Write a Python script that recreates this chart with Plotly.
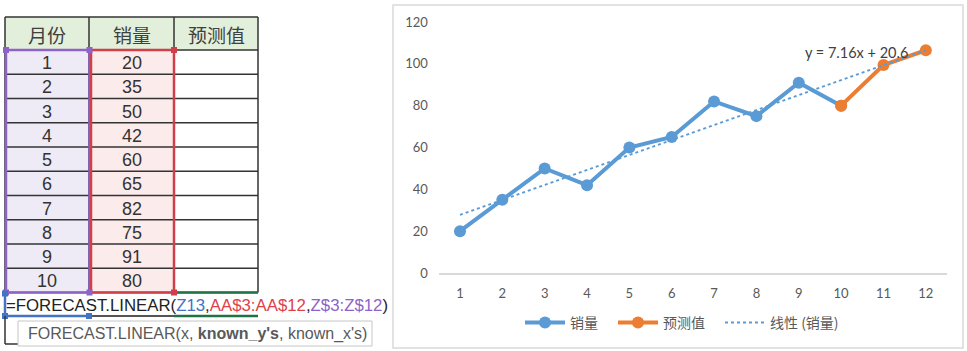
import plotly.graph_objects as go

# ---------------- data ----------------
months = [1, 2, 3, 4, 5, 6, 7, 8, 9, 10]
sales = [20, 35, 50, 42, 60, 65, 82, 75, 91, 80]
forecast_x = [10, 11, 12]
forecast_y = [80, 99.4, 106.5]
trend_x = [1, 12]
trend_y = [27.8, 106.5]
x_ticks = [1, 2, 3, 4, 5, 6, 7, 8, 9, 10, 11, 12]
y_ticks = [0, 20, 40, 60, 80, 100, 120]
headers = ["月份", "销量", "预测值"]
equation = "y = 7.16x + 20.6"
legend_names = ["销量", "预测值", "线性 (销量)"]

W, H = 967, 351
BLUE = "#5B9BD5"
ORANGE = "#ED7D31"
GRAY = "#595959"


def px(x):
    return x / W


def py(y):
    return 1 - y / H


fig = go.Figure()

fig.add_trace(go.Scatter(
    x=months, y=sales, name=legend_names[0], mode="lines+markers",
    line=dict(color=BLUE, width=4), marker=dict(color=BLUE, size=12), legend="legend"))
fig.add_trace(go.Scatter(
    x=forecast_x, y=forecast_y, name=legend_names[1], mode="lines+markers",
    line=dict(color=ORANGE, width=4), marker=dict(color=ORANGE, size=12), legend="legend2"))
fig.add_trace(go.Scatter(
    x=trend_x, y=trend_y, name=legend_names[2], mode="lines",
    line=dict(color=BLUE, width=2, dash="dot"), legend="legend3"))

shapes = []
annotations = []

# ---------------- chart panel ----------------
shapes.append(dict(type="rect", xref="paper", yref="paper",
                   x0=px(393), x1=px(963), y0=py(5), y1=py(348),
                   line=dict(color="#D9D9D9", width=1.5), fillcolor="rgba(0,0,0,0)",
                   layer="below"))

annotations.append(dict(x=10.37, y=105.6, xref="x", yref="y", text=equation,
                        xanchor="center", yanchor="middle",
                        showarrow=False, font=dict(size=14.5, color="#404040",
                                                   family="Lato, Noto Sans CJK SC")))

# ---------------- spreadsheet table ----------------
col_x = [5, 89, 174, 258]
top = 17
head_b = 50
row_h = 24.25
n = len(months)
bottom = head_b + row_h * n

# backgrounds
shapes.append(dict(type="rect", xref="paper", yref="paper", x0=px(col_x[0]), x1=px(col_x[3]),
                   y0=py(top), y1=py(head_b), fillcolor="#E2EFDA", line=dict(width=0), layer="below"))
shapes.append(dict(type="rect", xref="paper", yref="paper", x0=px(col_x[0]), x1=px(col_x[1]),
                   y0=py(head_b), y1=py(bottom), fillcolor="#EEEBF6", line=dict(width=0), layer="below"))
shapes.append(dict(type="rect", xref="paper", yref="paper", x0=px(col_x[1]), x1=px(col_x[2]),
                   y0=py(head_b), y1=py(bottom), fillcolor="#FBEBEB", line=dict(width=0), layer="below"))

line_black = dict(color="#333333", width=1.5)
# horizontal lines
for k in range(n + 2):
    y = top if k == 0 else head_b + row_h * (k - 1)
    shapes.append(dict(type="line", xref="paper", yref="paper", x0=px(col_x[0]), x1=px(col_x[3]),
                       y0=py(y), y1=py(y), line=line_black))
# vertical lines
for cx in col_x:
    shapes.append(dict(type="line", xref="paper", yref="paper", x0=px(cx), x1=px(cx),
                       y0=py(top), y1=py(bottom), line=line_black))

# selection borders
PURPLE = "#8E63C8"
RED = "#D0404A"
GREEN = "#217346"
SELBLUE = "#4472C4"
shapes.append(dict(type="rect", xref="paper", yref="paper", x0=px(6), x1=px(89.5),
                   y0=py(head_b), y1=py(bottom), line=dict(color=PURPLE, width=2.5)))
shapes.append(dict(type="rect", xref="paper", yref="paper", x0=px(91), x1=px(174),
                   y0=py(head_b), y1=py(bottom), line=dict(color=RED, width=2.5)))
for (hx, hy, c) in [(6, head_b, PURPLE), (89.5, head_b, PURPLE), (6, bottom, PURPLE),
                    (89.5, bottom, PURPLE), (174, head_b, RED), (174, bottom, RED)]:
    shapes.append(dict(type="rect", xref="paper", yref="paper", x0=px(hx - 3), x1=px(hx + 3),
                       y0=py(hy - 3), y1=py(hy + 3), fillcolor=c, line=dict(width=0)))

# formula-row cell decorations
f_b = 316
shapes.append(dict(type="line", xref="paper", yref="paper", x0=px(177), x1=px(258),
                   y0=py(bottom), y1=py(bottom), line=dict(color=GREEN, width=2.5)))
shapes.append(dict(type="line", xref="paper", yref="paper", x0=px(5), x1=px(89),
                   y0=py(f_b), y1=py(f_b), line=dict(color=SELBLUE, width=2.5)))
shapes.append(dict(type="line", xref="paper", yref="paper", x0=px(89), x1=px(174),
                   y0=py(f_b), y1=py(f_b), line=dict(color="#555555", width=2)))
shapes.append(dict(type="line", xref="paper", yref="paper", x0=px(174), x1=px(258),
                   y0=py(f_b), y1=py(f_b), line=dict(color=GREEN, width=2.5)))
shapes.append(dict(type="line", xref="paper", yref="paper", x0=px(5), x1=px(5),
                   y0=py(bottom), y1=py(f_b), line=dict(color=SELBLUE, width=2.5)))
for (hx, hy) in [(5, bottom + 1), (5, f_b), (89, f_b)]:
    shapes.append(dict(type="rect", xref="paper", yref="paper", x0=px(hx - 3), x1=px(hx + 3),
                       y0=py(hy - 3), y1=py(hy + 3), fillcolor=SELBLUE, line=dict(width=0)))
shapes.append(dict(type="line", xref="paper", yref="paper", x0=px(5), x1=px(5),
                   y0=py(f_b), y1=py(344), line=line_black))
shapes.append(dict(type="line", xref="paper", yref="paper", x0=px(5), x1=px(20),
                   y0=py(344), y1=py(344), line=line_black))

# tooltip box
shapes.append(dict(type="rect", xref="paper", yref="paper", x0=px(18), x1=px(372),
                   y0=py(321), y1=py(346), fillcolor="white", line=dict(color="#C6C6C6", width=1)))

# header text
for i, h in enumerate(headers):
    annotations.append(dict(x=px((col_x[i] + col_x[i + 1]) / 2), y=py((top + head_b) / 2 + 1),
                            xref="paper", yref="paper", text=h, showarrow=False,
                            xanchor="center", yanchor="middle",
                            font=dict(size=19, color="#404040", family="Noto Sans CJK SC")))
# cell values
for k in range(n):
    yc = py(head_b + row_h * (k + 0.5) + 1)
    annotations.append(dict(x=px((col_x[0] + col_x[1]) / 2), y=yc, xref="paper", yref="paper",
                            text=str(months[k]), showarrow=False,
                            xanchor="center", yanchor="middle",
                            font=dict(size=18, color="#333333", family="Liberation Sans")))
    annotations.append(dict(x=px((col_x[1] + col_x[2]) / 2), y=yc, xref="paper", yref="paper",
                            text=str(sales[k]), showarrow=False,
                            xanchor="center", yanchor="middle",
                            font=dict(size=18, color="#333333", family="Liberation Sans")))

formula = ("=FORECAST.LINEAR(<span style='color:#4472C4'>Z13</span>,"
           "<span style='color:#E0404A'>AA$3:AA$12</span>,"
           "<span style='color:#8E63C8'>Z$3:Z$12</span>)")
annotations.append(dict(x=px(4), y=py(305), xref="paper", yref="paper", xanchor="left",
                        yanchor="middle", text=formula, showarrow=False,
                        font=dict(size=16.8, color="#222222", family="Liberation Sans")))
annotations.append(dict(x=px(26), y=py(334), xref="paper", yref="paper", xanchor="left",
                        yanchor="middle", text="FORECAST.LINEAR(x, <b>known_y's</b>, known_x's)",
                        showarrow=False,
                        font=dict(size=16, color=GRAY, family="Liberation Sans")))

leg_common = dict(orientation="h", yanchor="middle", xanchor="left", y=py(323),
                  font=dict(size=14, color=GRAY, family="Noto Sans CJK SC"),
                  bgcolor="rgba(0,0,0,0)", itemwidth=40)

fig.update_layout(
    width=W, height=H,
    margin=dict(l=0, r=0, t=0, b=0, autoexpand=False),
    paper_bgcolor="white", plot_bgcolor="white",
    shapes=shapes, annotations=annotations,
    font=dict(family="Lato, Noto Sans CJK SC", color=GRAY, size=13),
    xaxis=dict(domain=[px(438.8), px(947)], range=[0.5, 12.5], tickmode="array",
               tickvals=x_ticks, showgrid=False, zeroline=False, showline=True,
               linecolor="#D9D9D9", linewidth=1.5, ticks="", ticklabelstandoff=8,
               tickfont=dict(size=13, color=GRAY), fixedrange=True),
    yaxis=dict(domain=[py(273), py(22)], range=[0, 120], tickmode="array",
               tickvals=y_ticks, showgrid=False, zeroline=False, showline=False,
               ticks="", ticklabelstandoff=10, tickfont=dict(size=13, color=GRAY),
               fixedrange=True),
    legend=dict(leg_common, x=px(520)),
    legend2=dict(leg_common, x=px(613)),
    legend3=dict(leg_common, x=px(720)),
    showlegend=True,
)

fig.write_html("out.html")
